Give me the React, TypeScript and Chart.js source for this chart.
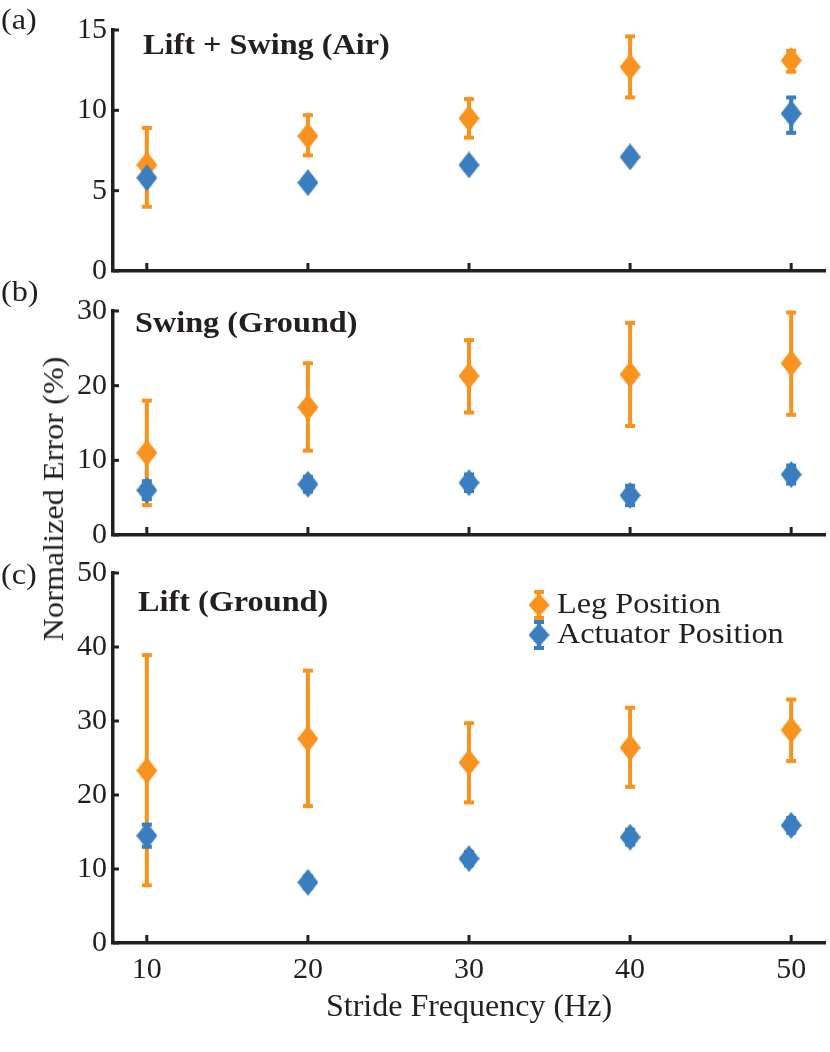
import { useEffect, useRef } from 'react';
import { Chart, registerables } from 'chart.js';

Chart.register(...registerables);

const FONT = '"Liberation Serif", "Times New Roman", serif';
const ORANGE = '#F7931E';
const BLUE = '#3B7EBF';
const INK = '#231F20';
const STRETCH = 1.075; // the source figure's text is a little wider than Liberation Serif

const freqs = [10, 20, 30, 40, 50];

// (a) Lift + Swing (Air)
const airLeg = [6.6, 8.4, 9.5, 12.7, 13.1];
const airLegLow = [4.0, 7.2, 8.3, 10.8, 12.4];
const airLegHigh = [8.9, 9.7, 10.7, 14.6, 13.7];
const airAct = [5.8, 5.5, 6.6, 7.1, 9.8];
const airActLow = [5.5, 5.2, 6.3, 6.8, 8.6];
const airActHigh = [6.1, 5.8, 6.9, 7.4, 10.8];
const airTicks = [0, 5, 10, 15];

// (b) Swing (Ground)
const swingLeg = [11.0, 17.1, 21.3, 21.5, 23.0];
const swingLegLow = [4.0, 11.3, 16.4, 14.6, 16.1];
const swingLegHigh = [18.0, 23.0, 26.1, 28.4, 29.8];
const swingAct = [6.0, 6.8, 7.0, 5.3, 8.1];
const swingActLow = [4.8, 5.8, 5.9, 4.0, 6.9];
const swingActHigh = [7.2, 7.8, 8.1, 6.6, 9.3];
const swingTicks = [0, 10, 20, 30];

// (c) Lift (Ground)
const liftLeg = [23.3, 27.6, 24.4, 26.4, 28.8];
const liftLegLow = [7.8, 18.5, 19.0, 21.1, 24.6];
const liftLegHigh = [38.9, 36.8, 29.7, 31.8, 32.9];
const liftAct = [14.5, 8.2, 11.4, 14.3, 15.9];
const liftActLow = [13.0, 7.4, 10.5, 13.3, 14.9];
const liftActHigh = [16.0, 9.0, 12.3, 15.3, 16.9];
const liftTicks = [0, 10, 20, 30, 40, 50];

const legendLabels = ['Leg Position', 'Actuator Position'];

// tall MATLAB-ish diamond marker
function diamond(color: string) {
  const c = document.createElement('canvas');
  c.width = 21;
  c.height = 27;
  const g = c.getContext('2d')!;
  g.fillStyle = color;
  g.beginPath();
  g.moveTo(10.5, 0);
  g.lineTo(21, 13.5);
  g.lineTo(10.5, 27);
  g.lineTo(0, 13.5);
  g.closePath();
  g.fill();
  return c;
}

function drawBar(ctx: CanvasRenderingContext2D, x: number, y1: number, y2: number, color: string) {
  ctx.strokeStyle = color;
  ctx.fillStyle = color;
  ctx.lineWidth = 4;
  ctx.beginPath();
  ctx.moveTo(x, y1);
  ctx.lineTo(x, y2);
  ctx.stroke();
  ctx.fillRect(x - 5, y1 - 2, 10, 4);
  ctx.fillRect(x - 5, y2 - 2, 10, 4);
}

function wideText(ctx: CanvasRenderingContext2D, text: string, x: number, y: number) {
  ctx.save();
  ctx.translate(x, y);
  ctx.scale(STRETCH, 1);
  ctx.fillText(text, 0, 0);
  ctx.restore();
}

const errorBars = {
  id: 'errorBars',
  beforeDatasetsDraw(chart: any) {
    const { ctx, scales } = chart;
    ctx.save();
    chart.data.datasets.forEach((ds: any) => {
      ds.data.forEach((p: any, i: number) => {
        const x = scales.x.getPixelForValue(p.x);
        drawBar(ctx, x, scales.y.getPixelForValue(ds.errHigh[i]), scales.y.getPixelForValue(ds.errLow[i]), ds.backgroundColor);
      });
    });
    ctx.restore();
  },
};

interface PanelProps {
  top: number;
  height: number;
  padTop: number;
  padBottom: number;
  ymax: number;
  yTicks: number[];
  title: string;
  titleDx: number;
  titleDy: number;
  leg: number[];
  legLow: number[];
  legHigh: number[];
  act: number[];
  actLow: number[];
  actHigh: number[];
  showX?: boolean;
  legend?: boolean;
}

function Panel(props: PanelProps) {
  const canvasRef = useRef<HTMLCanvasElement>(null);

  useEffect(() => {
    if (!canvasRef.current) return;
    const p = props;
    const orangeMark = diamond(ORANGE);
    const blueMark = diamond(BLUE);

    const deco = {
      id: 'deco',
      afterDraw(chart: any) {
        const { ctx, chartArea, scales } = chart;
        ctx.save();
        // inward tick marks
        ctx.strokeStyle = INK;
        ctx.lineWidth = 3;
        freqs.forEach((v) => {
          const x = scales.x.getPixelForValue(v);
          ctx.beginPath();
          ctx.moveTo(x, chartArea.bottom);
          ctx.lineTo(x, chartArea.bottom - 8);
          ctx.stroke();
        });
        p.yTicks.forEach((v) => {
          const y = scales.y.getPixelForValue(v);
          ctx.beginPath();
          ctx.moveTo(chartArea.left, y);
          ctx.lineTo(chartArea.left + 6, y);
          ctx.stroke();
        });
        // panel title
        ctx.fillStyle = INK;
        ctx.font = `bold 30px ${FONT}`;
        ctx.textBaseline = 'middle';
        ctx.textAlign = 'left';
        wideText(ctx, p.title, chartArea.left + p.titleDx, chartArea.top + p.titleDy);
        // legend
        if (p.legend) {
          const marks = [orangeMark, blueMark];
          const colors = [ORANGE, BLUE];
          ctx.font = `30px ${FONT}`;
          legendLabels.forEach((label, i) => {
            const mx = chartArea.left + 426;
            const my = chartArea.top + 32 + i * 30;
            drawBar(ctx, mx, my - 13, my + 13, colors[i]);
            ctx.drawImage(marks[i], mx - 10.5, my - 12, 21, 24);
            ctx.fillStyle = INK;
            wideText(ctx, label, mx + 18, my);
          });
        }
        ctx.restore();
      },
    };

    const chart = new Chart(canvasRef.current, {
      type: 'scatter',
      data: {
        datasets: [
          {
            label: legendLabels[0],
            data: freqs.map((x, i) => ({ x, y: p.leg[i] })),
            errLow: p.legLow,
            errHigh: p.legHigh,
            backgroundColor: ORANGE,
            pointStyle: orangeMark,
            pointRadius: 11,
            order: 1,
            clip: false,
          },
          {
            label: legendLabels[1],
            data: freqs.map((x, i) => ({ x, y: p.act[i] })),
            errLow: p.actLow,
            errHigh: p.actHigh,
            backgroundColor: BLUE,
            pointStyle: blueMark,
            pointRadius: 11,
            order: 0,
            clip: false,
          },
        ],
      } as any,
      options: {
        animation: false,
        responsive: false,
        layout: { autoPadding: false, padding: { top: p.padTop, bottom: p.padBottom, left: 0, right: 5 } },
        plugins: { legend: { display: false }, tooltip: { enabled: false } },
        scales: {
          x: {
            type: 'linear',
            min: 7.9,
            max: 52.1,
            afterBuildTicks: (s: any) => {
              s.ticks = freqs.map((v) => ({ value: v }));
            },
            afterFit: (s: any) => {
              s.height = p.showX ? 90 : 0;
            },
            grid: { display: false, drawTicks: false },
            border: { display: true, color: INK, width: 3.5 },
            ticks: { display: !!p.showX, padding: 9, color: INK, font: { family: FONT, size: 30 } },
            title: {
              display: !!p.showX,
              text: 'Stride Frequency (Hz)',
              color: INK,
              font: { family: FONT, size: 32 },
              padding: { top: 0, bottom: 6 },
            },
          },
          y: {
            type: 'linear',
            min: 0,
            max: p.ymax,
            afterBuildTicks: (s: any) => {
              s.ticks = p.yTicks.map((v) => ({ value: v }));
            },
            afterFit: (s: any) => {
              s.width = 113;
            },
            grid: { display: false, drawTicks: false },
            border: { display: true, color: INK, width: 3.5 },
            ticks: { padding: 6, color: INK, font: { family: FONT, size: 30 } },
          },
        },
      } as any,
      plugins: [errorBars, deco],
    });
    return () => chart.destroy();
    // eslint-disable-next-line react-hooks/exhaustive-deps
  }, []);

  return (
    <canvas
      ref={canvasRef}
      width={830}
      height={props.height}
      style={{ position: 'absolute', left: 0, top: props.top, width: 830, height: props.height }}
    />
  );
}

const labelStyle = {
  position: 'absolute' as const,
  left: 1,
  fontSize: 30,
  lineHeight: '30px',
  color: INK,
  whiteSpace: 'nowrap' as const,
  transform: `scaleX(${STRETCH})`,
  transformOrigin: '0 50%',
};

export default function App() {
  return (
    <div style={{ position: 'absolute', left: 0, top: 0, width: 830, height: 1052, background: '#fff', fontFamily: FONT }}>
      <Panel
        top={0} height={300} padTop={30} padBottom={29}
        ymax={15} yTicks={airTicks} title="Lift + Swing (Air)" titleDx={30} titleDy={16}
        leg={airLeg} legLow={airLegLow} legHigh={airLegHigh}
        act={airAct} actLow={airActLow} actHigh={airActHigh}
      />
      <Panel
        top={285} height={275} padTop={26} padBottom={25}
        ymax={30} yTicks={swingTicks} title="Swing (Ground)" titleDx={22} titleDy={13}
        leg={swingLeg} legLow={swingLegLow} legHigh={swingLegHigh}
        act={swingAct} actLow={swingActLow} actHigh={swingActHigh}
      />
      <Panel
        top={545} height={507} padTop={28} padBottom={19}
        ymax={50} yTicks={liftTicks} title="Lift (Ground)" titleDx={25} titleDy={30}
        leg={liftLeg} legLow={liftLegLow} legHigh={liftLegHigh}
        act={liftAct} actLow={liftActLow} actHigh={liftActHigh}
        showX legend
      />
      <div style={{ ...labelStyle, top: 4 }}>(a)</div>
      <div style={{ ...labelStyle, top: 276 }}>(b)</div>
      <div style={{ ...labelStyle, top: 559 }}>(c)</div>
      <div
        style={{
          ...labelStyle,
          left: 53,
          top: 499,
          transformOrigin: '50% 50%',
          transform: `translate(-50%, -50%) rotate(-90deg) scaleX(${STRETCH})`,
        }}
      >
        Normalized Error (%)
      </div>
    </div>
  );
}
